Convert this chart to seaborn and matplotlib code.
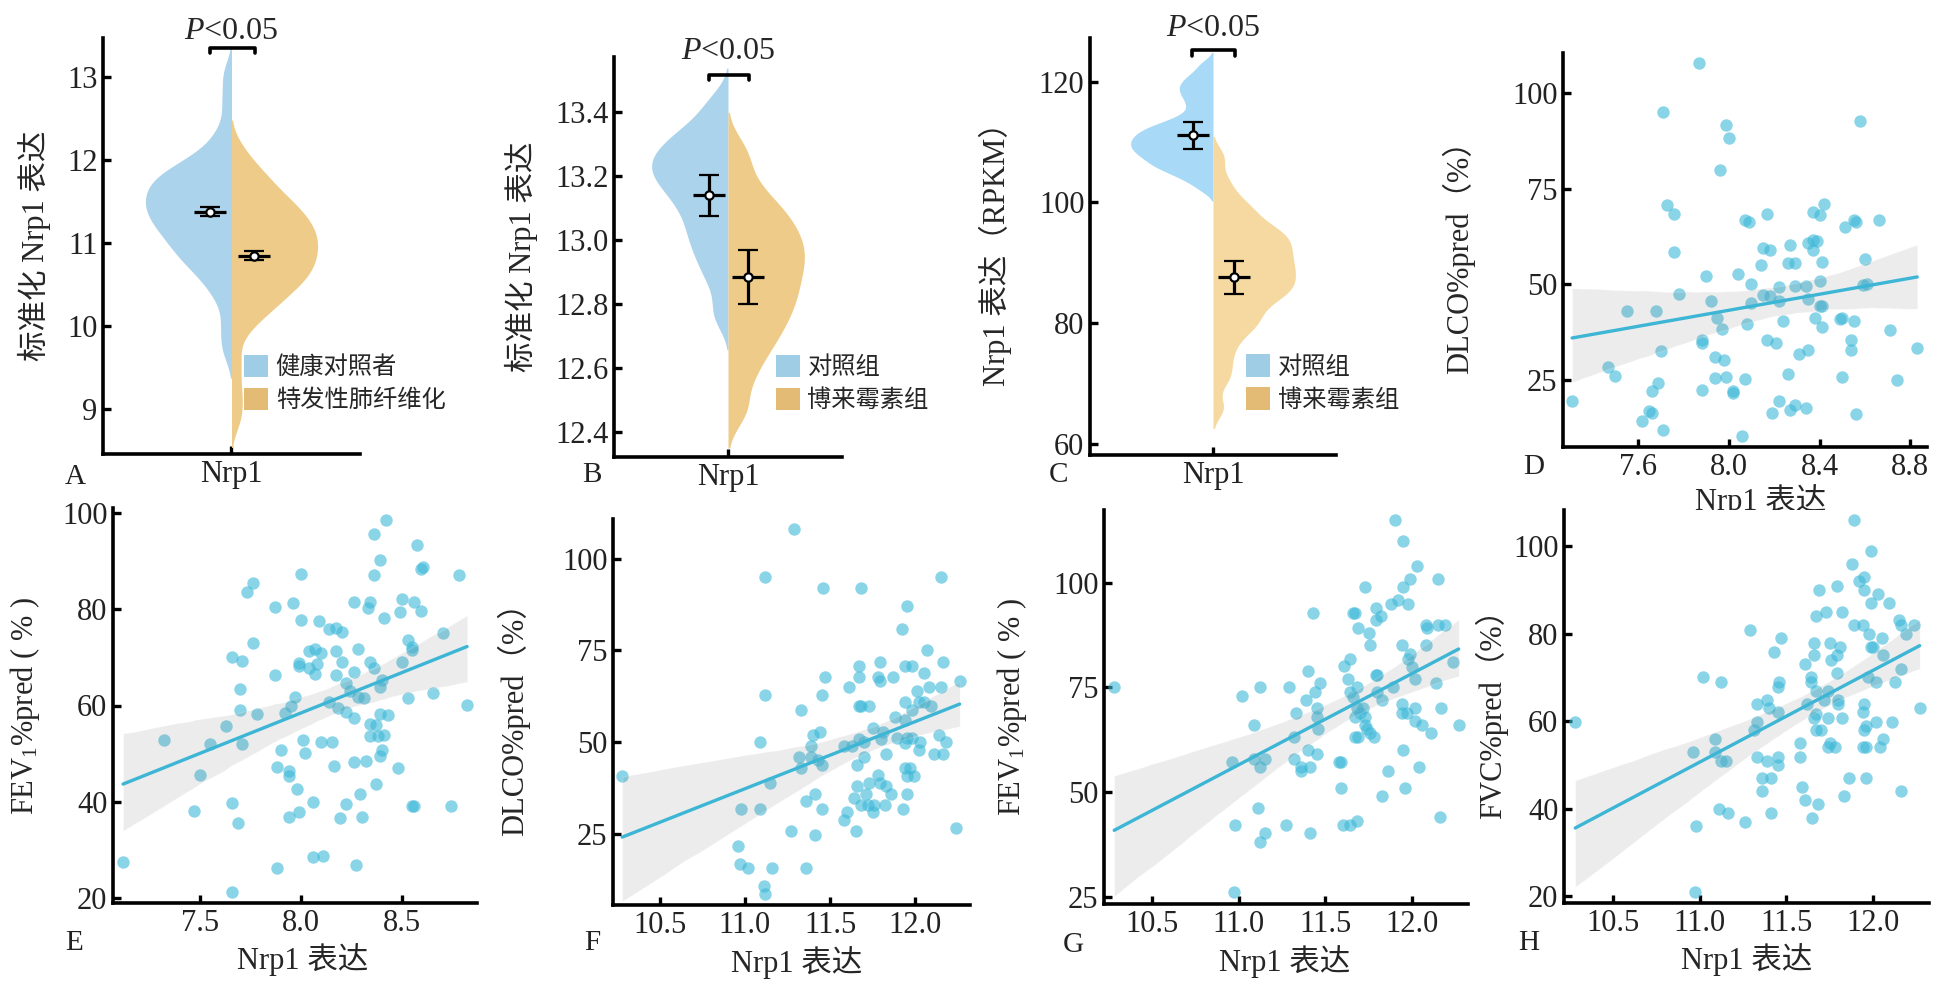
import numpy as np
import pandas as pd
import matplotlib
matplotlib.use('Agg')
import matplotlib.pyplot as plt
from matplotlib.patches import Patch
import seaborn as sns

# ==========================================
# 1. DATA
# ==========================================
# --- violin panels: sample values per group ---
a_ctrl = [13.03, 12.70, 12.37, 12.19, 12.08, 11.99, 11.93, 11.88, 11.85, 11.81,
          11.77, 11.73, 11.70, 11.66, 11.62, 11.59, 11.55, 11.52, 11.48, 11.45,
          11.41, 11.38, 11.34, 11.31, 11.27, 11.23, 11.19, 11.15, 11.11, 11.06,
          11.01, 10.97, 10.91, 10.85, 10.80, 10.75, 10.67, 10.57, 10.47, 10.30,
          10.00, 9.72]
a_ipf = [12.12, 11.91, 11.83, 11.75, 11.66, 11.58, 11.53, 11.48, 11.43,
         11.38, 11.33, 11.29, 11.25, 11.21, 11.17, 11.13, 11.09, 11.05, 11.02,
         10.98, 10.94, 10.90, 10.86, 10.82, 10.78, 10.75, 10.71, 10.66, 10.62,
         10.58, 10.54, 10.49, 10.45, 10.39, 10.32, 10.25, 10.18, 10.10, 9.92,
         9.55, 9.20, 8.90]
b_ctrl = [13.445, 13.42, 13.38, 13.36, 13.34, 13.327, 13.314, 13.301, 13.288, 13.276,
          13.267, 13.256, 13.247, 13.236, 13.227, 13.216, 13.206, 13.196, 13.185, 13.175,
          13.162, 13.149, 13.135, 13.121, 13.106, 13.088, 13.07, 13.051, 13.032, 13.012,
          12.991, 12.971, 12.947, 12.92, 12.89, 12.855, 12.79, 12.75]
b_bleo = [13.29, 13.26, 13.20, 13.167, 13.132, 13.113, 13.096, 13.078, 13.061, 13.044,
          13.029, 13.015, 13.001, 12.987, 12.974, 12.96, 12.947, 12.933, 12.919, 12.906,
          12.892, 12.877, 12.862, 12.846, 12.832, 12.816, 12.801, 12.786, 12.77, 12.754,
          12.734, 12.714, 12.695, 12.675, 12.653, 12.62, 12.586, 12.553, 12.476, 12.46]
c_ctrl = [122.9, 121.5, 120.57, 119.9, 119.23, 118.61, 118.0, 117.28, 116.51, 115.65,
          114.76, 114.0, 113.53, 113.1, 112.66, 112.35, 112.06, 111.77, 111.48, 111.18,
          110.89, 110.62, 110.36, 110.1, 109.84, 109.57, 109.31, 109.05, 108.77, 108.5,
          108.22, 107.95, 107.68, 107.35, 107.01, 106.67, 106.32, 105.98, 105.64, 105.24,
          104.69, 104.13, 103.43, 102.18]
c_bleo = [107.5, 103.84, 101.56, 99.93, 98.97, 98.0, 97.04, 96.07, 95.5,
          94.96, 94.41, 93.87, 93.32, 92.78, 92.23, 91.69, 91.14, 90.6, 90.05,
          89.53, 89.01, 88.49, 87.98, 87.46, 86.94, 86.42, 85.9, 85.38, 84.86,
          84.35, 83.78, 82.89, 82.0, 81.12, 80.24, 79.35, 78.46, 76.8, 74.9,
          72.63, 70.4, 66.0]

# group means and standard errors shown as points with error bars
a_mean, a_se = [11.38, 10.85], [0.055, 0.055]
b_mean, b_se = [13.14, 12.885], [0.065, 0.084]
c_mean, c_se = [111.1, 87.6], [2.26, 2.76]

groups_a = ['健康对照者', '特发性肺纤维化']
groups_bc = ['对照组', '博来霉素组']

# --- scatter panels ---
d_x = [7.87, 7.71, 7.99, 8.00, 8.58, 7.96, 7.73, 7.76, 7.76, 7.90,
       7.78, 7.55, 7.68, 7.92, 7.95, 7.97, 8.04, 8.07, 8.09, 8.17,
       8.10, 8.15, 8.18, 8.14, 8.15, 8.18, 8.10, 8.08, 8.22, 8.22,
       8.24, 8.27, 8.26, 8.29, 8.29, 8.34, 8.35, 8.35, 8.37, 8.39,
       8.37, 8.37, 8.40, 8.42, 8.41, 8.40, 8.40, 8.41, 8.38, 8.41,
       8.51, 8.55, 8.56, 8.60, 8.59, 8.61, 8.66, 8.49, 8.50, 8.55,
       8.54, 8.54, 8.71, 8.83, 8.74, 8.50, 8.56, 7.88, 7.88, 7.70,
       7.47, 7.50, 7.69, 7.66, 7.65, 7.66, 7.62, 7.71, 7.31, 7.88,
       7.94, 7.98, 7.94, 7.99, 8.02, 8.02, 8.07, 8.06, 8.17, 8.21,
       8.31, 8.35, 8.26, 8.22, 8.19, 8.27, 8.29, 8.34]
d_y = [107.7, 95.0, 91.7, 88.3, 92.6, 80.0, 70.7, 68.4, 58.4, 52.1,
       47.6, 43.0, 43.2, 45.8, 41.3, 38.4, 52.8, 66.9, 66.3, 68.4,
       50.1, 59.5, 59.1, 55.2, 47.3, 47.1, 45.3, 39.8, 49.3, 45.6,
       40.4, 60.2, 55.6, 55.6, 49.7, 49.5, 46.3, 60.7, 61.7, 61.3,
       59.1, 68.9, 68.2, 71.1, 55.8, 50.8, 44.5, 44.5, 41.3, 38.8,
       64.9, 66.8, 66.2, 56.7, 49.8, 50.0, 66.9, 41.0, 41.3, 40.4,
       35.6, 33.0, 38.2, 33.4, 25.2, 25.8, 16.3, 35.6, 34.7, 32.7,
       28.5, 26.0, 24.3, 22.1, 16.9, 16.4, 14.3, 12.1, 19.7, 22.5,
       31.2, 30.2, 25.6, 25.8, 22.1, 21.7, 25.4, 10.4, 35.6, 34.7,
       31.9, 33.0, 26.6, 19.5, 16.4, 17.3, 18.6, 17.8]

e_x = [8.42, 8.36, 8.57, 8.39, 8.60, 8.59, 8.36, 8.78, 8.00, 7.76,
       7.73, 7.87, 7.96, 8.00, 8.09, 8.26, 8.34, 8.33, 8.50, 8.56,
       8.59, 8.49, 8.41, 8.14, 8.17, 8.20, 8.70, 7.76, 7.66, 7.71,
       8.04, 8.07, 8.10, 8.17, 8.28, 8.20, 7.99, 7.99, 8.08, 8.04,
       8.07, 8.17, 8.26, 8.34, 8.36, 8.50, 8.53, 8.55, 8.55, 7.87,
       7.70, 8.22, 8.40, 8.39, 8.24, 8.28, 8.31, 8.53, 8.65, 8.82,
       7.97, 7.95, 7.92, 8.14, 8.18, 8.22, 8.26, 8.39, 8.43, 7.70,
       7.78, 7.63, 7.32, 7.55, 7.71, 8.34, 8.37, 8.34, 8.38, 8.41,
       8.01, 8.10, 8.15, 8.40, 8.39, 7.90, 8.02, 8.32, 8.26, 8.16,
       8.48, 7.88, 7.94, 7.94, 7.50, 8.37, 7.98, 8.29, 8.06, 8.22,
       7.66, 7.47, 7.99, 7.94, 8.19, 8.30, 8.55, 8.56, 8.74, 7.69,
       7.12, 8.06, 8.11, 8.27, 7.88, 7.66]
e_y = [98.6, 95.6, 93.4, 90.2, 88.8, 88.4, 87.0, 87.0, 87.4, 85.5,
       83.6, 80.5, 81.3, 77.8, 77.6, 81.5, 81.5, 80.3, 82.1, 81.5,
       79.6, 79.4, 78.2, 75.8, 76.1, 75.2, 75.1, 72.9, 70.0, 69.2,
       71.4, 71.7, 70.9, 71.3, 71.8, 69.0, 68.8, 68.1, 68.6, 67.7,
       66.6, 66.4, 66.9, 69.0, 67.7, 69.0, 73.5, 72.2, 71.6, 66.3,
       63.5, 64.7, 65.2, 63.9, 63.0, 61.8, 61.6, 61.6, 62.5, 60.2,
       61.8, 60.0, 58.4, 60.7, 59.5, 58.6, 57.5, 58.2, 58.0, 59.1,
       58.3, 55.7, 52.8, 52.1, 52.0, 56.2, 56.0, 53.6, 53.6, 53.9,
       52.8, 52.4, 52.4, 50.7, 49.6, 50.8, 50.1, 48.4, 48.3, 47.4,
       47.0, 47.2, 46.5, 45.3, 45.5, 43.8, 42.7, 41.7, 40.0, 39.6,
       39.7, 38.2, 37.9, 36.8, 36.6, 36.8, 39.1, 39.1, 39.2, 35.7,
       27.6, 28.5, 28.7, 26.9, 26.2, 21.3]

f_x = [11.29, 11.12, 11.46, 11.68, 12.15, 11.95, 11.92, 12.07, 11.67, 11.79,
       11.94, 11.98, 12.16, 11.47, 11.67, 11.78, 11.79, 11.87, 12.05, 12.26,
       11.61, 12.15, 12.08, 11.45, 11.12, 12.01, 11.94, 12.02, 12.05, 12.09,
       11.67, 11.68, 11.73, 11.98, 11.33, 11.88, 11.94, 11.75, 11.81, 11.80,
       11.89, 11.95, 11.98, 11.94, 12.03, 12.14, 12.18, 12.02, 12.11, 12.16,
       11.83, 11.67, 11.70, 11.58, 11.63, 11.70, 11.44, 11.40, 11.39, 11.39,
       11.32, 11.43, 11.45, 11.33, 11.66, 11.94, 11.97, 11.95, 11.99, 11.78,
       11.73, 11.79, 11.83, 11.66, 11.86, 11.71, 11.64, 11.68, 11.72, 11.76,
       11.82, 11.75, 11.60, 11.58, 11.93, 11.95, 11.65, 11.15, 11.41, 11.36,
       11.45, 10.98, 11.09, 11.27, 11.41, 10.96, 10.97, 11.02, 11.16, 11.36,
       11.11, 11.12, 10.28, 12.24, 11.09]
f_y = [108.1, 95.0, 92.0, 92.0, 95.0, 87.0, 80.9, 75.0, 70.9, 72.0,
       70.9, 70.9, 72.0, 67.9, 67.9, 67.8, 66.8, 67.9, 69.0, 66.8,
       65.0, 65.0, 65.0, 62.9, 62.9, 63.9, 60.9, 60.9, 60.9, 59.9,
       59.9, 59.9, 59.9, 58.9, 58.9, 56.9, 56.0, 53.9, 52.8, 50.9,
       51.1, 51.1, 51.1, 49.8, 50.0, 51.9, 50.0, 48.0, 46.9, 46.9,
       46.9, 50.9, 50.2, 48.9, 48.9, 46.0, 52.8, 51.9, 48.9, 46.1,
       46.0, 45.1, 43.9, 43.0, 43.9, 43.0, 43.0, 40.9, 40.9, 41.0,
       38.9, 38.9, 38.1, 38.0, 35.9, 35.9, 34.8, 33.0, 33.0, 33.0,
       33.0, 30.9, 30.9, 28.9, 31.8, 35.9, 25.9, 38.9, 35.9, 33.9,
       31.8, 31.8, 31.8, 25.9, 24.8, 21.8, 16.8, 15.7, 15.7, 15.7,
       10.9, 8.6, 40.9, 26.6, 50.0]

g_x = [11.90, 11.95, 12.03, 11.99, 12.15, 11.73, 11.95, 11.92, 11.88, 11.98,
       11.43, 11.66, 11.67, 11.79, 11.82, 11.79, 11.69, 11.75, 12.08, 12.09,
       12.15, 12.19, 11.76, 11.94, 12.08, 11.99, 11.98, 12.00, 12.24, 11.64,
       11.61, 11.40, 11.63, 11.79, 11.80, 12.02, 12.14, 11.89, 11.68, 11.47,
       11.44, 11.29, 11.12, 11.02, 11.39, 11.64, 11.66, 11.80, 11.83, 11.33,
       11.45, 11.45, 11.46, 11.68, 11.72, 11.67, 11.73, 11.70, 11.73, 11.74,
       11.76, 11.67, 11.69, 11.78, 11.94, 11.94, 11.97, 12.02, 12.02, 12.06,
       12.17, 12.11, 12.27, 11.09, 11.32, 11.40, 11.45, 11.32, 11.36, 11.41,
       11.36, 10.96, 11.09, 11.15, 11.12, 11.58, 11.59, 11.95, 12.04, 11.86,
       11.59, 11.96, 11.83, 11.11, 10.98, 11.27, 11.15, 11.12, 11.41, 11.60,
       11.64, 11.68, 12.16, 10.28, 10.97]
g_y = [115.0, 110.0, 104.0, 101.0, 101.0, 98.9, 98.9, 96.0, 94.9, 94.9,
       92.9, 92.9, 92.9, 94.0, 92.0, 91.1, 89.1, 88.1, 89.9, 89.1,
       89.9, 89.9, 85.1, 85.1, 85.1, 83.0, 81.9, 79.9, 81.0, 81.9,
       80.1, 79.0, 77.0, 77.9, 77.9, 77.0, 76.0, 75.0, 75.0, 76.0,
       74.0, 75.0, 75.0, 73.0, 72.0, 74.0, 72.8, 74.0, 72.0, 69.0,
       70.0, 68.0, 65.0, 70.0, 70.0, 68.0, 68.0, 69.0, 66.0, 65.0,
       64.0, 63.1, 63.1, 63.1, 71.0, 69.0, 69.0, 70.0, 67.0, 66.0,
       70.0, 64.0, 66.0, 66.0, 63.1, 60.0, 59.1, 58.0, 56.1, 56.1,
       55.0, 57.1, 58.0, 58.0, 56.1, 57.1, 57.1, 60.0, 56.1, 55.0,
       51.0, 51.0, 49.0, 46.1, 42.1, 42.1, 40.1, 38.1, 40.1, 42.1,
       42.1, 43.2, 44.1, 75.0, 26.0]

h_x = [11.89, 11.99, 11.88, 11.92, 11.95, 11.95, 11.79, 11.69, 12.03, 11.99,
       12.09, 11.73, 11.82, 11.67, 11.89, 11.94, 12.15, 12.16, 12.24, 11.98,
       12.19, 11.29, 11.47, 11.43, 11.66, 11.75, 11.81, 11.66, 11.79, 11.76,
       11.61, 11.99, 12.05, 12.06, 12.00, 11.79, 12.16, 11.64, 11.64, 11.97,
       12.02, 12.13, 11.02, 11.12, 11.46, 11.45, 11.67, 11.74, 11.72, 11.62,
       11.80, 11.80, 11.39, 11.33, 11.40, 11.45, 11.95, 11.94, 11.67, 11.74,
       11.66, 11.82, 12.02, 12.11, 12.27, 11.33, 11.31, 11.96, 11.95, 11.67,
       11.70, 12.06, 11.58, 11.75, 11.74, 11.78, 11.94, 11.96, 12.04, 11.09,
       10.96, 11.09, 11.12, 11.15, 11.33, 11.39, 11.45, 11.45, 11.58, 11.36,
       11.41, 11.86, 11.96, 11.36, 11.59, 11.61, 11.83, 12.16, 11.68, 11.11,
       11.16, 11.41, 11.26, 11.65, 10.98, 10.28, 10.97]
h_y = [105.9, 98.9, 95.9, 91.9, 92.9, 90.0, 90.9, 90.0, 89.0, 86.9,
       86.9, 84.9, 84.9, 83.9, 82.0, 82.0, 83.0, 82.0, 82.0, 79.9,
       79.9, 80.8, 78.9, 75.9, 77.9, 77.9, 76.9, 75.0, 75.0, 74.0,
       73.0, 76.9, 78.9, 75.0, 76.9, 71.0, 71.9, 70.0, 68.9, 70.0,
       68.9, 68.9, 70.0, 68.9, 68.9, 67.9, 66.9, 66.9, 64.9, 64.0,
       64.9, 64.0, 64.9, 64.0, 63.0, 62.0, 64.0, 62.0, 61.7, 60.8,
       60.8, 60.8, 59.9, 59.9, 63.0, 59.9, 58.0, 58.9, 58.0, 58.0,
       58.0, 55.9, 55.0, 55.0, 54.0, 54.0, 54.0, 54.0, 54.0, 55.9,
       52.9, 52.9, 51.0, 51.0, 51.9, 51.0, 51.9, 50.0, 51.9, 47.0,
       47.0, 47.0, 47.0, 44.0, 44.9, 42.1, 43.0, 44.0, 41.1, 40.0,
       39.0, 39.0, 37.0, 38.0, 36.0, 59.9, 21.0]

# tick values
a_yticks = [9, 10, 11, 12, 13]
b_yticks = [12.4, 12.6, 12.8, 13.0, 13.2, 13.4]
c_yticks = [60, 80, 100, 120]
d_xticks = [7.6, 8.0, 8.4, 8.8]
e_xticks = [7.5, 8.0, 8.5]
fgh_xticks = [10.5, 11.0, 11.5, 12.0]
y25_ticks = [25, 50, 75, 100]
y20_ticks = [20, 40, 60, 80, 100]

# ==========================================
# 2. STYLE
# ==========================================
sns.set_style('ticks')
plt.rcParams['font.family'] = ['Liberation Serif', 'Noto Sans CJK SC']
plt.rcParams['mathtext.fontset'] = 'custom'
plt.rcParams['mathtext.rm'] = 'Liberation Serif'
plt.rcParams['mathtext.it'] = 'Liberation Serif:italic'
plt.rcParams['axes.edgecolor'] = 'black'
plt.rcParams['axes.linewidth'] = 2.6

FS = 22
BLUE_A, ORANGE_A = '#ABD3EC', '#EECB89'
BLUE_C, ORANGE_C = '#A8DAF7', '#F5D9A1'
LEG_BLUE, LEG_ORANGE = '#9FCDE5', '#E3BB74'
PT = '#3DB8D8'
LINE = '#3DB5D5'

W, H = 1949, 984
fig = plt.figure(figsize=(W / 100, H / 100), dpi=100)


def px_box(l, t, r, b):
    return [l / W, 1 - b / H, (r - l) / W, (b - t) / H]


def style_axes(ax):
    sns.despine(ax=ax)
    ax.tick_params(direction='in', length=6, width=2.4, labelsize=FS, pad=4,
                   color='black', labelcolor='#222222')


def violin_panel(ax, ctrl, case, names, colors, means, ses, ylim, yticks,
                 fmt, ylabel, ylab_x, leg_anchor, p_y, p_text_y, bw=0.55):
    df = pd.DataFrame({
        'gene': ['Nrp1'] * (len(ctrl) + len(case)),
        'group': [names[0]] * len(ctrl) + [names[1]] * len(case),
        'value': ctrl + case,
    })
    sns.violinplot(data=df, x='gene', y='value', hue='group', hue_order=names,
                   split=True, inner=None, cut=2, density_norm='width',
                   bw_adjust=bw, width=0.67, linewidth=0, saturation=1,
                   palette=colors, legend=False, ax=ax)
    for xpos, m, se in zip([-0.083, 0.087], means, ses):
        ax.plot([xpos], [m], marker='_', ms=23, mew=2.3, color='black', zorder=4)
        ax.errorbar([xpos], [m], yerr=[se], fmt='o', ms=6, mfc='white', mec='black',
                    mew=1.6, ecolor='black', elinewidth=2.3, capsize=7, capthick=2.3,
                    zorder=5)
    # significance bracket
    span = ylim[1] - ylim[0]
    ax.plot([-0.085, -0.085, 0.09, 0.09], [p_y - 0.013 * span, p_y, p_y, p_y - 0.013 * span],
            color='black', lw=2.6, clip_on=False, zorder=6)
    ax.text(0.0, p_text_y, '$P$<0.05', ha='center', va='center', fontsize=23,
            clip_on=False)
    ax.set_xlim(-0.5, 0.5)
    ax.set_ylim(*ylim)
    ax.set_yticks(yticks)
    ax.set_yticklabels([fmt.format(v) for v in yticks])
    ax.set_xlabel('')
    ax.set_ylabel(ylabel, fontsize=FS)
    ax.yaxis.set_label_coords(ylab_x, 0.5)
    ax.yaxis.label.set_va('center')
    style_axes(ax)
    handles = [Patch(facecolor=LEG_BLUE, edgecolor='none', label=names[0]),
               Patch(facecolor=LEG_ORANGE, edgecolor='none', label=names[1])]
    ax.legend(handles=handles, loc='lower left', bbox_to_anchor=leg_anchor,
              frameon=False, fontsize=17.5, handlelength=1.0, handleheight=1.05,
              handletextpad=0.3, labelspacing=0.35, borderaxespad=0, borderpad=0)


def scatter_panel(ax, x, y, xlim, ylim, xticks, yticks, ylabel, ylab_x, xlab_pos):
    df = pd.DataFrame({'nrp1': x, 'value': y})
    sns.regplot(data=df, x='nrp1', y='value', ax=ax, fit_reg=False, color=PT,
                scatter_kws=dict(s=80, alpha=0.6, linewidths=0))
    sns.regplot(data=df, x='nrp1', y='value', ax=ax, scatter=False, color='gray',
                seed=1, line_kws=dict(alpha=0))
    sns.regplot(data=df, x='nrp1', y='value', ax=ax, scatter=False, ci=None,
                color=LINE, line_kws=dict(lw=2.4))
    ax.set_xlim(*xlim)
    ax.set_ylim(*ylim)
    ax.set_xticks(xticks)
    ax.set_xticklabels(['{:.1f}'.format(v) for v in xticks])
    ax.set_yticks(yticks)
    ax.set_xlabel('Nrp1 表达', fontsize=FS)
    ax.xaxis.set_label_coords(*xlab_pos)
    ax.xaxis.label.set_va('center')
    ax.set_ylabel(ylabel, fontsize=FS)
    ax.yaxis.set_label_coords(ylab_x, 0.5)
    ax.yaxis.label.set_va('center')
    style_axes(ax)


# ==========================================
# 3. PANELS
# ==========================================
ax_a = fig.add_axes(px_box(103, 38, 360, 454))
violin_panel(ax_a, a_ctrl, a_ipf, groups_a, [BLUE_A, ORANGE_A], a_mean, a_se,
             (8.46, 13.47), a_yticks, '{:.0f}', '标准化 Nrp1 表达', -0.265,
             (0.549, 0.10), 13.35, 13.55)

ax_b = fig.add_axes(px_box(614, 57, 842, 457))
violin_panel(ax_b, b_ctrl, b_bleo, groups_bc, [BLUE_A, ORANGE_A], b_mean, b_se,
             (12.323, 13.572), b_yticks, '{:.1f}', '标准化 Nrp1 表达', -0.404,
             (0.71, 0.112), 13.517, 13.59)

ax_c = fig.add_axes(px_box(1090, 38, 1336, 455))
violin_panel(ax_c, c_ctrl, c_bleo, groups_bc, [BLUE_C, ORANGE_C], c_mean, c_se,
             (58.2, 127.2), c_yticks, '{:.0f}', 'Nrp1 表达（RPKM）', -0.386,
             (0.634, 0.104), 125.2, 128.7, bw=0.4)

ax_d = fig.add_axes(px_box(1563, 53, 1927, 447))
scatter_panel(ax_d, d_x, d_y, (7.27, 8.873), (7.6, 110.4), d_xticks, y25_ticks,
              'DLCO%pred（%）', -0.286, (0.544, -0.135))

ax_e = fig.add_axes(px_box(113, 508, 477, 903))
scatter_panel(ax_e, e_x, e_y, (7.07, 8.869), (19.0, 101.0), e_xticks, y20_ticks,
              'FEV$_1$%pred ( % )', -0.242, (0.52, -0.144))

ax_f = fig.add_axes(px_box(613, 519, 970, 905))
scatter_panel(ax_f, f_x, f_y, (10.226, 12.321), (5.7, 110.8), fgh_xticks, y25_ticks,
              'DLCO%pred（%）', -0.28, (0.513, -0.148))

ax_g = fig.add_axes(px_box(1104, 510, 1468, 904))
scatter_panel(ax_g, g_x, g_y, (10.221, 12.324), (23.25, 117.4), fgh_xticks, y25_ticks,
              'FEV$_1$%pred ( % )', -0.253, (0.495, -0.147))

ax_h = fig.add_axes(px_box(1564, 510, 1929, 903))
scatter_panel(ax_h, h_x, h_y, (10.215, 12.324), (18.5, 108.2), fgh_xticks, y20_ticks,
              'FVC%pred（%）', -0.2, (0.501, -0.145))

# panel letters
for letter, (px, py) in zip('ABCDEFGH', [(75, 477), (592, 475), (1059, 475), (1534, 467),
                                          (74, 943), (592, 943), (1073, 945), (1529, 943)]):
    fig.text(px / W, 1 - py / H, letter, ha='center', va='center', fontsize=21,
             color='#222222')

plt.savefig('out.png', dpi=100)
